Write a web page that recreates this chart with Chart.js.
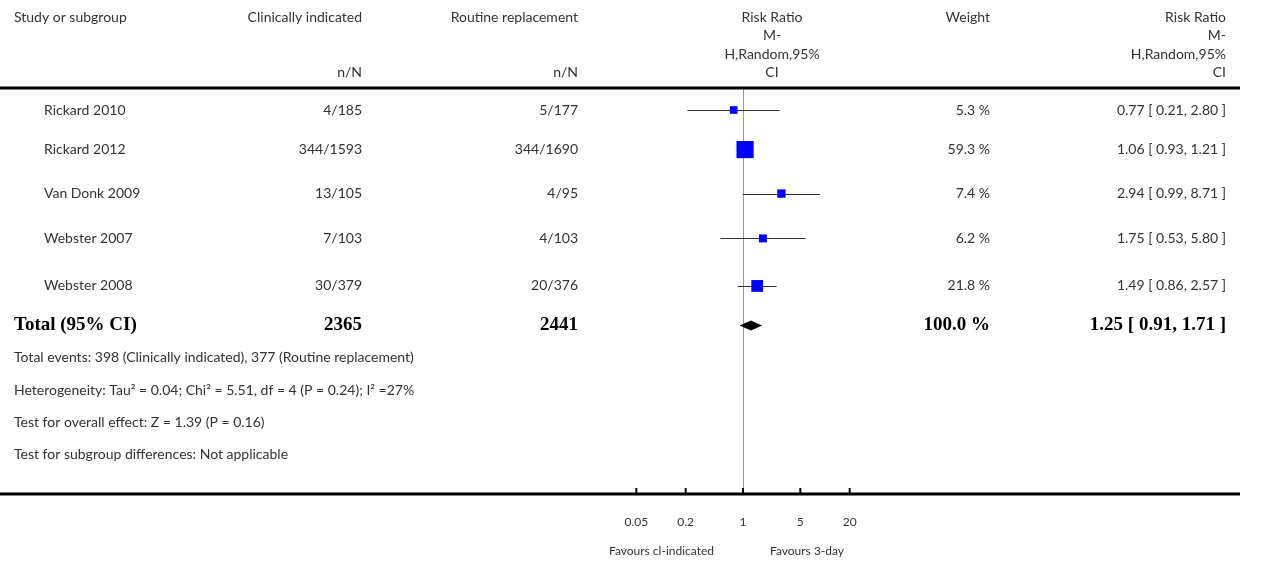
<!DOCTYPE html>
<html><head><meta charset="utf-8">
<script src="https://cdn.jsdelivr.net/npm/chart.js@4"></script>
<style>html,body{margin:0;padding:0;background:#fff}#c{display:block}</style>
</head><body>
<div style="width:1270px;height:563px"><canvas id="c"></canvas></div>
<script>
const studies = ["Rickard 2010","Rickard 2012","Van Donk 2009","Webster 2007","Webster 2008"];
const ciN = ["4/185","344/1593","13/105","7/103","30/379"];
const rrN = ["5/177","344/1690","4/95","4/103","20/376"];
const rr = [0.77,1.06,2.94,1.75,1.49];
const lo = [0.21,0.93,0.99,0.53,0.86];
const hi = [2.80,1.21,8.71,5.80,2.57];
const weights = [5.3,59.3,7.4,6.2,21.8];
const rowPos = [0.5,1.4,2.4,3.42,4.5];
const total = {label:"Total (95% CI)", ci:"2365", rr:"2441", w:"100.0 %", est:1.25, lo:0.91, hi:1.71, pos:5.4};
const ticks = [0.05,0.2,1,5,20];
const tickLabels = ["0.05","0.2","1","5","20"];
const footer = ["Total events: 398 (Clinically indicated), 377 (Routine replacement)",
 "Heterogeneity: Tau\u00b2 = 0.04; Chi\u00b2 = 5.51, df = 4 (P = 0.24); I\u00b2 =27%",
 "Test for overall effect: Z = 1.39 (P = 0.16)",
 "Test for subgroup differences: Not applicable"];

const F = '"Lato", "Open Sans", sans-serif';
const plugin = {
 id:'forest',
 beforeDatasetsDraw(chart){
  const c=chart.ctx, x=chart.scales.x, y=chart.scales.y, a=chart.chartArea;
  c.save();
  c.strokeStyle='#999';c.lineWidth=1;
  const x1=Math.round(x.getPixelForValue(1))+0.5;
  c.beginPath();c.moveTo(x1,a.top);c.lineTo(x1,a.bottom);c.stroke();
  c.strokeStyle='#333';c.lineWidth=1;
  studies.forEach((s,i)=>{const py=Math.round(y.getPixelForValue(rowPos[i]))+0.5;
   c.beginPath();c.moveTo(x.getPixelForValue(lo[i]),py);c.lineTo(x.getPixelForValue(hi[i]),py);c.stroke();});
  c.restore();
 },
 afterDatasetsDraw(chart){
  const c=chart.ctx, x=chart.scales.x, y=chart.scales.y, a=chart.chartArea;
  c.save();
  const ty=y.getPixelForValue(total.pos);
  c.fillStyle='#000';c.beginPath();
  c.moveTo(x.getPixelForValue(total.lo),ty);c.lineTo(x.getPixelForValue(total.est),ty-5);
  c.lineTo(x.getPixelForValue(total.hi),ty);c.lineTo(x.getPixelForValue(total.est),ty+5);c.closePath();c.fill();
  c.fillRect(0,a.top-1.5,1240,3);c.fillRect(0,a.bottom-1.5,1240,3);
  c.lineWidth=2;c.strokeStyle='#000';
  ticks.forEach(t=>{const px=x.getPixelForValue(t);c.beginPath();c.moveTo(px,a.bottom);c.lineTo(px,a.bottom-6);c.stroke();});
  c.font='12px '+F;c.fillStyle='#333';c.textAlign='center';c.textBaseline='middle';
  ticks.forEach((t,i)=>c.fillText(tickLabels[i],x.getPixelForValue(t),522));
  c.textAlign='right';c.fillText('Favours cl-indicated',714,551);
  c.textAlign='left';c.fillText('Favours 3-day',770,551);
  c.font='14px '+F;c.fillStyle='#333';
  c.textAlign='left';c.fillText('Study or subgroup',14,17);
  c.textAlign='right';c.fillText('Clinically indicated',362,17);c.fillText('Routine replacement',578,17);
  c.fillText('n/N',362,72);c.fillText('n/N',578,72);
  c.fillText('Weight',990,17);
  const hdr=[['Risk Ratio',17],['M-',35],['H,Random,95%',54],['CI',72]];
  c.textAlign='center';hdr.forEach(([t,py])=>c.fillText(t,772,py));
  c.textAlign='right';hdr.forEach(([t,py])=>c.fillText(t,1226,py));
  studies.forEach((s,i)=>{const py=y.getPixelForValue(rowPos[i]);
   c.textAlign='left';c.fillText(s,44,py);
   c.textAlign='right';c.fillText(ciN[i],362,py);c.fillText(rrN[i],578,py);
   c.fillText(weights[i].toFixed(1)+' %',990,py);
   c.fillText(rr[i].toFixed(2)+' [ '+lo[i].toFixed(2)+', '+hi[i].toFixed(2)+' ]',1226,py);});
  c.font='bold 19px "Liberation Serif", serif';c.fillStyle='#000';
  c.textAlign='left';c.fillText(total.label,14,ty);
  c.textAlign='right';c.fillText(total.ci,362,ty);c.fillText(total.rr,578,ty);c.fillText(total.w,990,ty);
  c.fillText(total.est.toFixed(2)+' [ '+total.lo.toFixed(2)+', '+total.hi.toFixed(2)+' ]',1226,ty);
  c.font='14px '+F;c.fillStyle='#333';c.textAlign='left';
  [357,390,422,454].forEach((py,i)=>c.fillText(footer[i],14,py));
  c.restore();
 }
};
const rad = weights.map(w=>2.5+Math.sqrt(w)*1.25);
new Chart(document.getElementById('c'),{
 type:'scatter',
 data:{datasets:[{data:rr.map((v,i)=>({x:v,y:rowPos[i]})),
   pointStyle:'rect',backgroundColor:'#0000ff',borderColor:'#0000ff',borderWidth:0,
   pointRadius:rad,pointHoverRadius:rad}]},
 plugins:[plugin],
 options:{responsive:true,maintainAspectRatio:false,animation:false,
  layout:{padding:{left:579,right:363,top:88,bottom:69}},
  plugins:{legend:{display:false},tooltip:{enabled:false}},
  scales:{x:{type:'logarithmic',min:0.01,max:100,display:false},
   y:{type:'linear',min:0,max:9.23,reverse:true,display:false}}}
});
</script></body></html>
